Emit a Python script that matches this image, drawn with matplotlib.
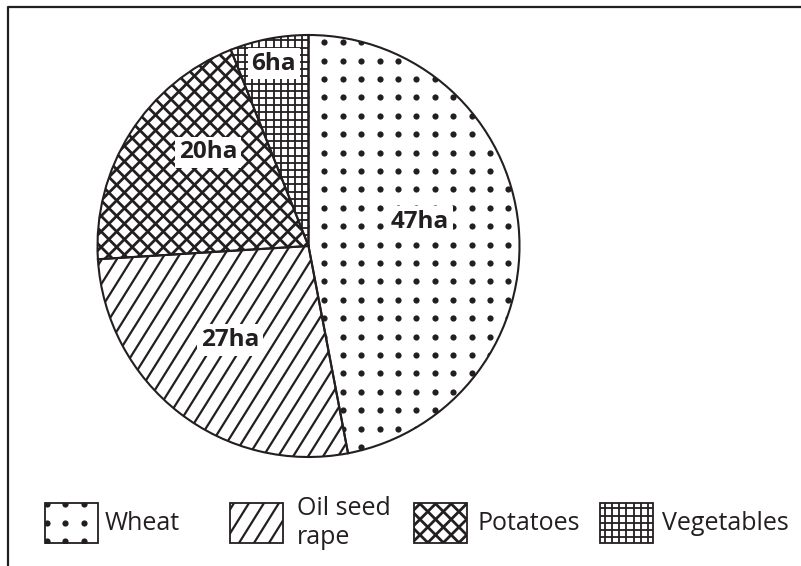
import matplotlib
matplotlib.use('Agg')
import matplotlib.pyplot as plt
import numpy as np
from matplotlib.collections import LineCollection
from matplotlib.patches import Rectangle

# data
crops = ['Wheat', 'Oil seed\nrape', 'Potatoes', 'Vegetables']
areas = [47, 27, 20, 6]
area_labels = [f'{a}ha' for a in areas]

INK = '#231f20'
W, H = 801, 566
plt.rcParams['font.family'] = ['Open Sans', 'DejaVu Sans']

fig = plt.figure(figsize=(W / 100, H / 100), dpi=100)
ax = fig.add_axes([0, 0, 1, 1])

# pie geometry in pixel units (y measured upward)
cx, cy, R = 308.5, H - 246, 211

wedges, _ = ax.pie(areas, startangle=90, counterclock=False, center=(cx, cy), radius=R,
                   wedgeprops=dict(facecolor='none', edgecolor=INK, linewidth=1.5, zorder=3))
ax.set_xlim(0, W)
ax.set_ylim(0, H)
ax.set_aspect('equal')
ax.axis('off')


def line_texture(clip, angle, step, lw, box, phase=0.0):
    x0, y0, x1, y1 = box
    th = np.deg2rad(angle)
    u = np.array([np.cos(th), np.sin(th)])
    n = np.array([-np.sin(th), np.cos(th)])
    corners = np.array([[x0, y0], [x1, y0], [x0, y1], [x1, y1]])
    proj = corners @ n
    L = np.hypot(x1 - x0, y1 - y0)
    mid = np.array([(x0 + x1) / 2, (y0 + y1) / 2])
    base = mid - (mid @ n) * n
    ks = np.arange(np.floor((proj.min() - phase) / step) - 1, np.ceil((proj.max() - phase) / step) + 2)
    segs = [[base + (k * step + phase) * n - L * u, base + (k * step + phase) * n + L * u] for k in ks]
    lc = LineCollection(segs, colors=INK, linewidths=lw, zorder=2)
    ax.add_collection(lc)
    lc.set_clip_path(clip)


def dot_texture(clip, step, box, anchor, size):
    x0, y0, x1, y1 = box
    ax0, ay0 = anchor
    xs = ax0 + step * np.arange(np.floor((x0 - ax0) / step), np.ceil((x1 - ax0) / step) + 1)
    ys = ay0 + step * np.arange(np.floor((y0 - ay0) / step), np.ceil((y1 - ay0) / step) + 1)
    X, Y = np.meshgrid(xs, ys)
    sc = ax.scatter(X.ravel(), Y.ravel(), s=size, c=INK, linewidths=0, zorder=2)
    sc.set_clip_path(clip)


def fill_texture(i, clip, box, anchor):
    if i == 0:
        dot_texture(clip, 18.4, box, anchor, 20)
    elif i == 1:
        line_texture(clip, 58, 12.7, 1.6, box)
    elif i == 2:
        line_texture(clip, 45, 11, 2.0, box)
        line_texture(clip, -45, 11, 2.0, box)
    else:
        line_texture(clip, 0, 7.2, 1.3, box)
        line_texture(clip, 90, 7.2, 1.3, box)


pie_box = (cx - R, cy - R, cx + R, cy + R)
for i, w in enumerate(wedges):
    fill_texture(i, w, pie_box, (324.3, H - 42.3))

# slice labels
label_r = [0.54, 0.58, 0.65, 0.88]
label_dang = [6.7, -2, -10.6, 0]
for w, txt, rf, da in zip(wedges, area_labels, label_r, label_dang):
    ang = np.deg2rad((w.theta1 + w.theta2) / 2 + da)
    ax.text(cx + rf * R * np.cos(ang), cy + rf * R * np.sin(ang), txt,
            ha='center', va='center', fontsize=17.5, fontweight='bold', color=INK, zorder=5,
            bbox=dict(boxstyle='square,pad=0.15', fc='white', ec='none'))

# legend
box_x = [45, 230, 414, 600]
text_x = [105, 297, 477, 662]
box_w, box_h = 53, 40
box_top = 503
for i, (name, bx, tx) in enumerate(zip(crops, box_x, text_x)):
    y0 = H - box_top - box_h
    rect = Rectangle((bx, y0), box_w, box_h, facecolor='none', edgecolor=INK, linewidth=1.3, zorder=3)
    ax.add_patch(rect)
    fill_texture(i, rect, (bx, y0, bx + box_w, y0 + box_h), (bx + 2, y0 + 2))
    ax.text(tx, y0 + box_h / 2, name, ha='left', va='center', fontsize=18, color=INK)

# frame (top and left edges only)
ax.plot([8, 8, W], [0, H - 7, H - 7], color=INK, linewidth=1.6, solid_capstyle='butt', clip_on=False)

fig.savefig('out.png', dpi=100)
